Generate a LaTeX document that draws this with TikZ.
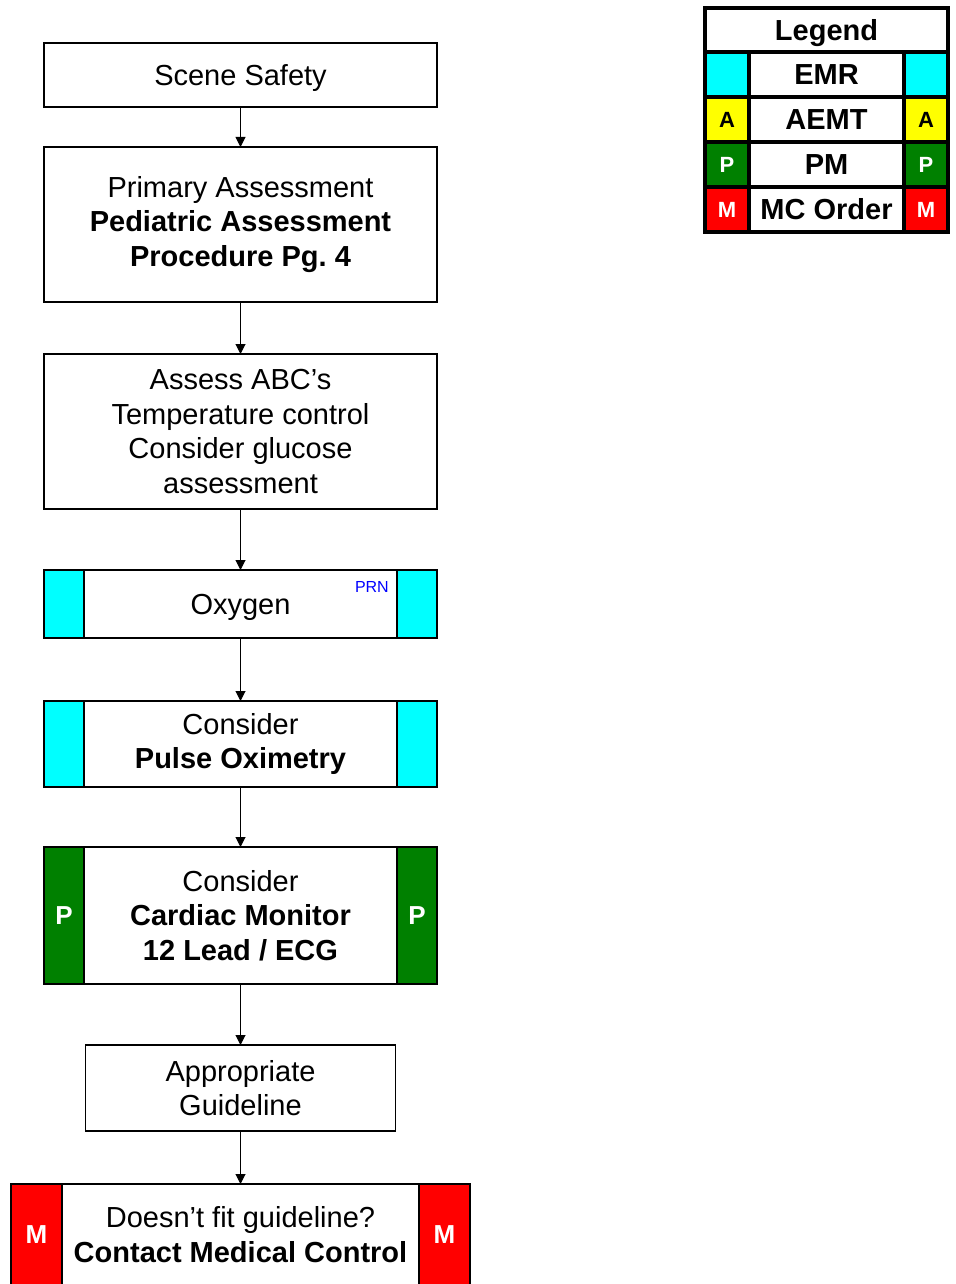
\documentclass[tikz,border=0pt]{standalone}
\usepackage{fontspec}
\setmainfont{Liberation Sans}
\usetikzlibrary{matrix,positioning}
\usetikzlibrary{arrows.meta}

\definecolor{emrcyan}{RGB}{0,255,255}
\definecolor{aemtyellow}{RGB}{255,255,0}
\definecolor{pmgreen}{RGB}{0,128,0}
\definecolor{mcred}{RGB}{255,0,0}

\newcommand{\boxfont}{\fontsize{29}{34.4}\selectfont}

\tikzset{
  stepbox/.style={draw, line width=1.3pt, fill=white, align=center, inner sep=0pt, outer sep=0pt, minimum width=393pt, font=\boxfont},
  sidebar/.style={draw, line width=1.3pt, inner sep=0pt, outer sep=0pt, minimum width=40pt, text=white, font=\fontsize{26}{26}\selectfont\bfseries},
  flow/.style={-{Triangle[width=10pt,length=10pt]}, line width=1pt},
}

\begin{document}
\begin{tikzpicture}[x=1pt, y=-1pt]
  \useasboundingbox (0,0) rectangle (955,1284);

  % Boxes of the flowchart
  \node[stepbox, minimum height=64pt, text depth=0pt] (safety) at (240.5,75) {Scene Safety};
  \node[stepbox, minimum height=155pt] (primary) at (240.5,224.5) {Primary Assessment\\\textbf{Pediatric Assessment}\\\textbf{Procedure Pg.\ 4}};
  \node[stepbox, minimum height=155pt] (abc) at (240.5,431.5) {Assess ABC’s\\Temperature control\\Consider glucose\\assessment};

  \node[stepbox, minimum height=68pt, text depth=0pt] (oxygen) at (240.5,604) {Oxygen};
  \node[sidebar, fill=emrcyan, minimum height=68pt, anchor=north west] (oxygen-l) at (oxygen.north west) {};
  \node[sidebar, fill=emrcyan, minimum height=68pt, anchor=north east] (oxygen-r) at (oxygen.north east) {};
  \node[anchor=north east, inner sep=0pt, text=blue, font=\fontsize{16}{16}\selectfont] (prn) at ([xshift=-48pt,yshift=-11pt]oxygen.north east) {PRN};

  \node[stepbox, minimum height=86pt] (pulseox) at (240.5,744) {Consider\\\textbf{Pulse Oximetry}};
  \node[sidebar, fill=emrcyan, minimum height=86pt, anchor=north west] (pulseox-l) at (pulseox.north west) {};
  \node[sidebar, fill=emrcyan, minimum height=86pt, anchor=north east] (pulseox-r) at (pulseox.north east) {};

  \node[stepbox, minimum height=137pt] (cardiac) at (240.5,915.5) {Consider\\\textbf{Cardiac Monitor}\\\textbf{12 Lead / ECG}};
  \node[sidebar, fill=pmgreen, minimum height=137pt, anchor=north west] (cardiac-l) at (cardiac.north west) {P};
  \node[sidebar, fill=pmgreen, minimum height=137pt, anchor=north east] (cardiac-r) at (cardiac.north east) {P};

  \node[stepbox, minimum width=310pt, minimum height=86pt] (guideline) at (240.5,1088) {Appropriate\\Guideline};

  \node[stepbox, minimum width=459pt, minimum height=101pt] (medcontrol) at (240.5,1234.5) {Doesn’t fit guideline?\\\textbf{Contact Medical Control}};
  \node[sidebar, fill=mcred, minimum width=51pt, minimum height=101pt, anchor=north west] (medcontrol-l) at (medcontrol.north west) {M};
  \node[sidebar, fill=mcred, minimum width=51pt, minimum height=101pt, anchor=north east] (medcontrol-r) at (medcontrol.north east) {M};

  % Arrows between the boxes
  \path[flow] (safety) edge (primary);
  \path[flow] (primary) edge (abc);
  \path[flow] (abc) edge (oxygen);
  \path[flow] (oxygen) edge (pulseox);
  \path[flow] (pulseox) edge (cardiac);
  \path[flow] (cardiac) edge (guideline);
  \path[flow] (guideline) edge (medcontrol);

  % Legend
  \matrix (legend) [matrix of nodes, anchor=north west, inner sep=0pt, outer sep=0pt, column sep=-4pt, row sep=-4pt, nodes in empty cells,
    nodes={draw, anchor=center, line width=4pt, minimum height=45pt, inner sep=0pt, font=\fontsize{22}{22}\selectfont\bfseries},
    column 1/.style={nodes={minimum width=44pt}},
    column 2/.style={nodes={minimum width=155pt, fill=white, font=\fontsize{29}{29}\selectfont\bfseries}},
    column 3/.style={nodes={minimum width=44pt}}] at (703,50)
  {
    |[fill=emrcyan]| & EMR & |[fill=emrcyan]| \\
    |[fill=aemtyellow]| A & AEMT & |[fill=aemtyellow]| A \\
    |[fill=pmgreen, text=white]| P & PM & |[fill=pmgreen, text=white]| P \\
    |[fill=mcred, text=white]| M & MC Order & |[fill=mcred, text=white]| M \\
  };
  \node[draw, line width=4pt, minimum width=243pt, minimum height=44pt, inner sep=0pt, text depth=0pt, font=\fontsize{29}{29}\selectfont\bfseries, above=-4pt of legend] (legend-title) {Legend};

\end{tikzpicture}
\end{document}
